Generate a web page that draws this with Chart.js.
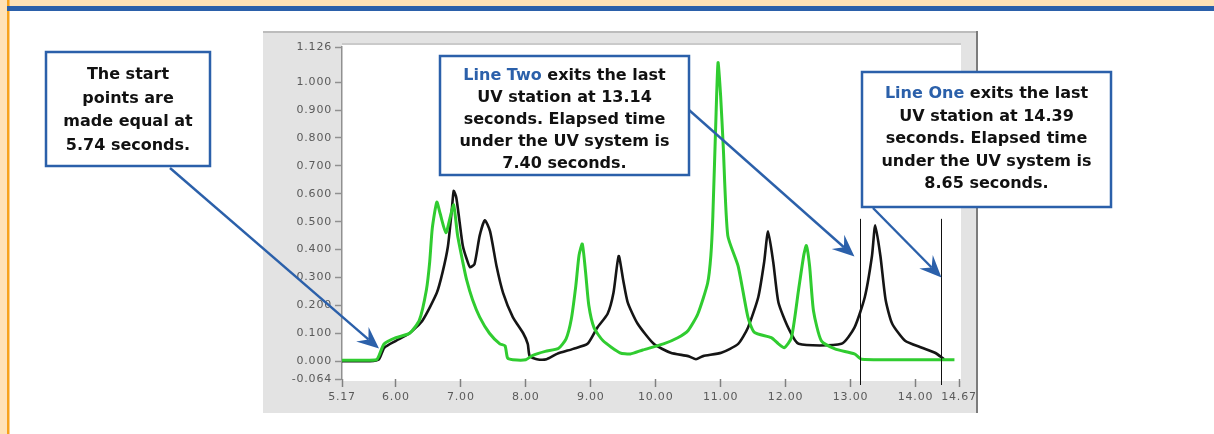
<!DOCTYPE html>
<html>
<head>
<meta charset="utf-8">
<script src="https://cdn.jsdelivr.net/npm/chart.js@4.4.1/dist/chart.umd.min.js"></script>
<style>
html, body { margin: 0; padding: 0; background: #fff; }
#uvChart { display: block; }
</style>
</head>
<body>
<canvas id="uvChart" width="1214" height="434"></canvas>
<script>
// Line One (black trace): time in seconds and reading
const lineOneTimes = [5.17, 5.6, 5.74, 5.82, 6.0, 6.21, 6.41, 6.63, 6.72, 6.8, 6.86, 6.89, 6.93, 6.98, 7.03, 7.09, 7.14, 7.21, 7.29, 7.37, 7.45, 7.55, 7.65, 7.8, 7.96, 8.03, 8.06, 8.17, 8.32, 8.48, 8.73, 8.95, 9.1, 9.26, 9.35, 9.43, 9.5, 9.57, 9.72, 9.97, 10.23, 10.5, 10.62, 10.73, 11.01, 11.27, 11.42, 11.58, 11.67, 11.73, 11.81, 11.89, 12.04, 12.2, 12.86, 13.06, 13.22, 13.33, 13.38, 13.46, 13.54, 13.64, 13.84, 14.1, 14.3, 14.44];
const lineOneValues = [0.0, 0.0, 0.007, 0.048, 0.073, 0.1, 0.146, 0.245, 0.32, 0.41, 0.54, 0.61, 0.586, 0.5, 0.414, 0.366, 0.337, 0.348, 0.45, 0.505, 0.465, 0.34, 0.245, 0.158, 0.1, 0.062, 0.018, 0.007, 0.007, 0.026, 0.044, 0.062, 0.12, 0.17, 0.245, 0.377, 0.29, 0.21, 0.135, 0.062, 0.03, 0.018, 0.007, 0.018, 0.03, 0.062, 0.12, 0.23, 0.355, 0.465, 0.355, 0.21, 0.12, 0.062, 0.062, 0.12, 0.23, 0.377, 0.487, 0.377, 0.22, 0.135, 0.073, 0.048, 0.03, 0.007];

// Line Two (green trace)
const lineTwoTimes = [5.17, 5.5, 5.7, 5.74, 5.82, 6.0, 6.21, 6.36, 6.47, 6.52, 6.56, 6.63, 6.68, 6.77, 6.84, 6.89, 6.95, 7.03, 7.09, 7.18, 7.29, 7.44, 7.6, 7.68, 7.72, 7.8, 8.0, 8.1, 8.3, 8.5, 8.62, 8.7, 8.77, 8.82, 8.87, 8.92, 8.97, 9.05, 9.19, 9.45, 9.61, 9.8, 10.12, 10.34, 10.5, 10.65, 10.8, 10.85, 10.88, 10.93, 10.96, 11.0, 11.04, 11.11, 11.27, 11.42, 11.52, 11.78, 11.89, 11.98, 12.09, 12.2, 12.28, 12.32, 12.37, 12.43, 12.55, 12.76, 13.06, 13.17, 14.6];
const lineTwoValues = [0.003, 0.003, 0.005, 0.02, 0.062, 0.084, 0.1, 0.146, 0.256, 0.355, 0.476, 0.57, 0.53, 0.46, 0.52, 0.56, 0.45, 0.355, 0.29, 0.22, 0.158, 0.1, 0.062, 0.055, 0.011, 0.005, 0.005, 0.02, 0.035, 0.045, 0.08, 0.15, 0.27, 0.38, 0.42, 0.32, 0.2, 0.12, 0.073, 0.03, 0.026, 0.04, 0.062, 0.084, 0.11, 0.17, 0.28, 0.38, 0.52, 0.89, 1.07, 0.95, 0.77, 0.45, 0.34, 0.158, 0.103, 0.084, 0.062, 0.048, 0.084, 0.256, 0.38, 0.414, 0.34, 0.18, 0.073, 0.044, 0.026, 0.007, 0.005];

const xTickValues = [5.17, 6, 7, 8, 9, 10, 11, 12, 13, 14, 14.67];
const yTickValues = [-0.064, 0, 0.1, 0.2, 0.3, 0.4, 0.5, 0.6, 0.7, 0.8, 0.9, 1.0, 1.126];

// exit times of the two lines (vertical markers)
const exitTimes = [13.14, 14.39];

// callout texts, one entry per line: [blue part, black part]
const startNote = [['', 'The start'], ['', 'points are'], ['', 'made equal at'], ['', '5.74 seconds.']];
const lineTwoNote = [['Line Two', ' exits the last'], ['', 'UV station at 13.14'], ['', 'seconds. Elapsed time'], ['', 'under the UV system is'], ['', '7.40 seconds.']];
const lineOneNote = [['Line One', ' exits the last'], ['', 'UV station at 14.39'], ['', 'seconds. Elapsed time'], ['', 'under the UV system is'], ['', '8.65 seconds.']];

const BLUE = '#2b60aa';
const noteFont = 'bold 16px "DejaVu Sans"';

function drawNote(ctx, box, lines, firstY, step) {
    ctx.fillStyle = '#fff';
    ctx.fillRect(box.x, box.y, box.w, box.h);
    ctx.strokeStyle = BLUE;
    ctx.lineWidth = 2.5;
    ctx.strokeRect(box.x, box.y, box.w, box.h);
    ctx.font = noteFont;
    ctx.textBaseline = 'middle';
    ctx.textAlign = 'left';
    const cx = box.x + box.w / 2;
    lines.forEach((ln, i) => {
        const w1 = ctx.measureText(ln[0]).width;
        const w2 = ctx.measureText(ln[1]).width;
        let x = cx - (w1 + w2) / 2;
        const y = firstY + i * step;
        ctx.fillStyle = BLUE;
        ctx.fillText(ln[0], x, y);
        ctx.fillStyle = '#111';
        ctx.fillText(ln[1], x + w1, y);
    });
}

function drawArrow(ctx, x0, y0, x1, y1) {
    const ang = Math.atan2(y1 - y0, x1 - x0);
    const len = 22, half = 9.5, notch = 14;
    ctx.strokeStyle = BLUE;
    ctx.fillStyle = BLUE;
    ctx.lineWidth = 2.4;
    ctx.beginPath();
    ctx.moveTo(x0, y0);
    ctx.lineTo(x1 - Math.cos(ang) * notch, y1 - Math.sin(ang) * notch);
    ctx.stroke();
    const bx = x1 - Math.cos(ang) * len, by = y1 - Math.sin(ang) * len;
    const px = -Math.sin(ang), py = Math.cos(ang);
    ctx.beginPath();
    ctx.moveTo(x1, y1);
    ctx.lineTo(bx + px * half, by + py * half);
    ctx.lineTo(x1 - Math.cos(ang) * notch, y1 - Math.sin(ang) * notch);
    ctx.lineTo(bx - px * half, by - py * half);
    ctx.closePath();
    ctx.fill();
}

const panelPlugin = {
    id: 'panel',
    beforeDraw(chart) {
        const ctx = chart.ctx, a = chart.chartArea;
        ctx.save();
        ctx.fillStyle = '#fff';
        ctx.fillRect(0, 0, chart.width, chart.height);
        // page frame
        ctx.fillStyle = '#ffe2b6';
        ctx.fillRect(0, 0, chart.width, 6);
        ctx.fillRect(0, 0, 7, chart.height);
        ctx.fillStyle = '#f7a21c';
        ctx.fillRect(7, 0, 2.5, chart.height);
        ctx.fillStyle = BLUE;
        ctx.fillRect(7, 6, chart.width - 7, 5);
        // grey instrument panel
        ctx.fillStyle = '#e3e3e3';
        ctx.fillRect(263, 31, 715, 382);
        ctx.fillStyle = '#bcbcbc';
        ctx.fillRect(263, 31, 715, 2);
        ctx.fillStyle = '#7c7c7c';
        ctx.fillRect(976, 31, 2, 382);
        ctx.fillStyle = '#cacaca';
        ctx.fillRect(a.left, a.top - 4, a.right - a.left + 2, 2);
        ctx.fillStyle = '#fff';
        ctx.fillRect(a.left, a.top - 2, a.right - a.left + 2, a.bottom - a.top + 4);
        ctx.restore();
        // slightly spread tick lettering like the instrument screen
        ctx.letterSpacing = '0.8px';
    },
    beforeDatasetsDraw(chart) {
        chart.ctx.letterSpacing = '0px';
    },
    afterDatasetsDraw(chart) {
        const ctx = chart.ctx, xs = chart.scales.x, ys = chart.scales.y;
        ctx.save();
        ctx.strokeStyle = '#111';
        ctx.lineWidth = 1;
        exitTimes.forEach(t => {
            const px = Math.round(xs.getPixelForValue(t)) + 0.5;
            ctx.beginPath();
            ctx.moveTo(px, ys.getPixelForValue(0.51));
            ctx.lineTo(px, chart.chartArea.bottom + 6);
            ctx.stroke();
        });
        ctx.restore();
    },
    afterDraw(chart) {
        const ctx = chart.ctx, xs = chart.scales.x, ys = chart.scales.y;
        ctx.save();
        ctx.letterSpacing = '0px';
        drawNote(ctx, {x: 46, y: 52, w: 164, h: 114}, startNote, 75, 23.5);
        drawNote(ctx, {x: 440, y: 56, w: 249, h: 119}, lineTwoNote, 76, 22);
        drawNote(ctx, {x: 862, y: 72, w: 249, h: 135}, lineOneNote, 94, 22.5);
        drawArrow(ctx, 170, 168, xs.getPixelForValue(5.74), ys.getPixelForValue(0.045));
        drawArrow(ctx, 689, 110, xs.getPixelForValue(13.06), ys.getPixelForValue(0.375));
        drawArrow(ctx, 873, 208, xs.getPixelForValue(14.4), ys.getPixelForValue(0.3));
        ctx.restore();
    }
};

const tickFont = { family: '"DejaVu Sans"', size: 11 };

new Chart(document.getElementById('uvChart').getContext('2d'), {
    type: 'line',
    data: {
        datasets: [{
            label: 'Line Two',
            data: lineTwoTimes.map((t, i) => ({ x: t, y: lineTwoValues[i] })),
            borderColor: '#30cc30',
            borderWidth: 3,
            pointRadius: 0,
            tension: 0.2,
            borderJoinStyle: 'round',
            order: 0
        }, {
            label: 'Line One',
            data: lineOneTimes.map((t, i) => ({ x: t, y: lineOneValues[i] })),
            borderColor: '#151515',
            borderWidth: 2.6,
            pointRadius: 0,
            tension: 0.2,
            borderJoinStyle: 'round',
            order: 1
        }]
    },
    options: {
        responsive: false,
        animation: false,
        devicePixelRatio: 1,
        layout: { padding: { left: 263, right: 255, top: 47, bottom: 21 } },
        plugins: { legend: { display: false }, tooltip: { enabled: false } },
        scales: {
            x: {
                type: 'linear',
                min: 5.17,
                max: 14.67,
                afterBuildTicks: s => { s.ticks = xTickValues.map(v => ({ value: v })); },
                afterFit: s => { s.height = 34; },
                ticks: {
                    callback: v => Number(v).toFixed(2),
                    font: tickFont,
                    color: '#5a5a5a',
                    padding: 4,
                    autoSkip: false,
                    maxRotation: 0
                },
                grid: { drawOnChartArea: false, tickLength: 8, tickColor: '#808080', tickWidth: 1.5 },
                border: { display: false }
            },
            y: {
                min: -0.064,
                max: 1.126,
                afterBuildTicks: s => { s.ticks = yTickValues.map(v => ({ value: v })); },
                afterFit: s => { s.width = 79; },
                ticks: {
                    callback: v => Number(v).toFixed(3),
                    font: tickFont,
                    color: '#5a5a5a',
                    padding: 3,
                    autoSkip: false
                },
                grid: { drawOnChartArea: false, tickLength: 7, tickColor: '#909090', tickWidth: 1.5 },
                border: { color: '#909090', width: 1.5 }
            }
        }
    },
    plugins: [panelPlugin]
});
</script>
</body>
</html>
